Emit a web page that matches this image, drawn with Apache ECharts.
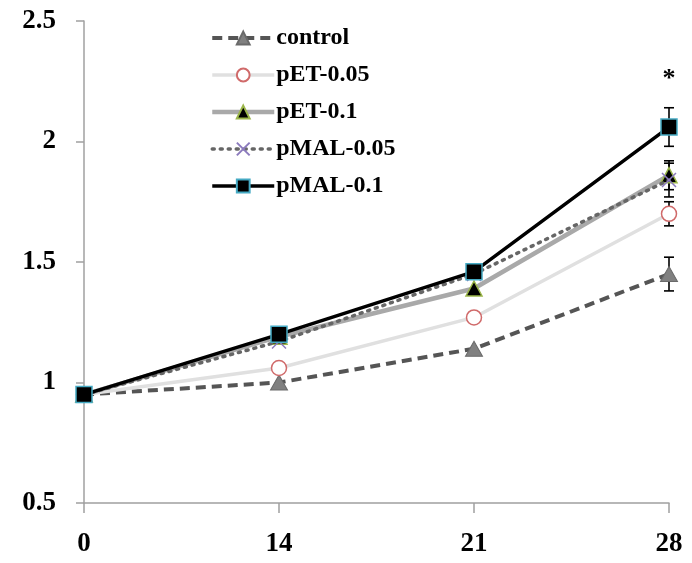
<!DOCTYPE html>
<html>
<head>
<meta charset="utf-8">
<script src="https://cdn.jsdelivr.net/npm/echarts@6/dist/echarts.min.js"></script>
<style>
html,body{margin:0;padding:0;background:#fff;}
#chart{width:692px;height:563px;}
</style>
</head>
<body>
<div id="chart"></div>
<script>
const days = ['0', '14', '21', '28'];
const yTicks = [0.5, 1, 1.5, 2, 2.5];
const seriesNames = ['control', 'pET-0.05', 'pET-0.1', 'pMAL-0.05', 'pMAL-0.1'];
const control = [0.95, 1.00, 1.14, 1.45];
const pET005 = [0.95, 1.06, 1.27, 1.70];
const pET01 = [0.95, 1.19, 1.39, 1.86];
const pMAL005 = [0.95, 1.17, 1.45, 1.84];
const pMAL01 = [0.95, 1.20, 1.46, 2.06];
const errControl = [null, null, null, 0.07];
const errPET005 = [null, null, null, 0.05];
const errPET01 = [null, null, null, 0.06];
const errPMAL005 = [null, null, null, 0.07];
const errPMAL01 = [null, null, null, 0.08];
const sigMark = '*';
const sigDay = '28';
const sigY = 2.26;

const FONT = '"Liberation Serif", "Times New Roman", serif';

function errData(vals, errs) {
  const out = [];
  vals.forEach((v, i) => {
    if (errs[i] != null) out.push([i, v - errs[i], v + errs[i]]);
  });
  return out;
}

function errSeries(vals, errs, z) {
  return {
    type: 'custom',
    silent: true,
    z: z,
    data: errData(vals, errs),
    renderItem: function (params, api) {
      const x = api.value(0);
      const lo = api.coord([x, api.value(1)]);
      const hi = api.coord([x, api.value(2)]);
      const w = 5;
      const st = { stroke: '#000', lineWidth: 1.6 };
      return {
        type: 'group',
        children: [
          { type: 'line', shape: { x1: lo[0], y1: lo[1], x2: hi[0], y2: hi[1] }, style: st },
          { type: 'line', shape: { x1: lo[0] - w, y1: lo[1], x2: lo[0] + w, y2: lo[1] }, style: st },
          { type: 'line', shape: { x1: hi[0] - w, y1: hi[1], x2: hi[0] + w, y2: hi[1] }, style: st }
        ]
      };
    }
  };
}

const legendWidths = [4, 3.5, 4.5, 3.5, 3.5];

const chart = echarts.init(document.getElementById('chart'), null, { renderer: 'canvas' });

const option = {
  animation: false,
  backgroundColor: '#fff',
  grid: { left: 84, right: 23, top: 21, bottom: 60 },
  legend: {
    data: seriesNames.map((n, i) => ({ name: n, lineStyle: { width: legendWidths[i] } })),
    orient: 'vertical',
    left: 205,
    top: 21,
    itemWidth: 62,
    itemHeight: 16,
    itemGap: 13,
    textStyle: { fontFamily: FONT, fontWeight: 'bold', fontSize: 24, color: '#000', lineHeight: 24, padding: [0, 0, 0, -3] }
  },
  xAxis: {
    type: 'category',
    data: days,
    boundaryGap: false,
    axisLine: { lineStyle: { color: '#a0a0a0', width: 1.5 } },
    axisTick: { show: true, inside: false, length: 10, alignWithLabel: true, lineStyle: { color: '#a0a0a0', width: 1.5 } },
    axisLabel: { fontFamily: FONT, fontWeight: 'bold', fontSize: 27, color: '#000', margin: 28 },
    splitLine: { show: false }
  },
  yAxis: {
    type: 'value',
    min: yTicks[0],
    max: yTicks[yTicks.length - 1],
    interval: 0.5,
    axisLine: { show: true, lineStyle: { color: '#a0a0a0', width: 1.5 } },
    axisTick: { show: true, inside: false, length: 8, lineStyle: { color: '#a0a0a0', width: 1.5 } },
    axisLabel: { fontFamily: FONT, fontWeight: 'bold', fontSize: 27, color: '#000', margin: 28,
      formatter: function (v) { return String(v); } },
    splitLine: { show: false }
  },
  series: [
    errSeries(control, errControl, 1),
    errSeries(pET005, errPET005, 1),
    errSeries(pET01, errPET01, 1),
    errSeries(pMAL005, errPMAL005, 1),
    errSeries(pMAL01, errPMAL01, 1),
    {
      name: 'control', type: 'line', data: control, z: 2,
      symbol: 'triangle', symbolSize: [17, 15],
      lineStyle: { color: '#555555', width: 4, type: [10, 6] },
      itemStyle: { color: '#808080', borderColor: '#6a6a6a', borderWidth: 1 }
    },
    {
      name: 'pET-0.05', type: 'line', data: pET005, z: 3,
      symbol: 'circle', symbolSize: 15,
      lineStyle: { color: '#e0e0e0', width: 3.5 },
      itemStyle: { color: '#ffffff', borderColor: '#d06a6a', borderWidth: 1.5 }
    },
    {
      name: 'pET-0.1', type: 'line', data: pET01, z: 4,
      symbol: 'triangle', symbolSize: [16, 15],
      lineStyle: { color: '#a9a9a9', width: 4.5 },
      itemStyle: { color: '#000000', borderColor: '#9bb64a', borderWidth: 1.5 }
    },
    {
      name: 'pMAL-0.05', type: 'line', data: pMAL005, z: 5,
      symbol: 'path://M0,0L10,10M10,0L0,10', symbolSize: 14,
      lineStyle: { color: '#666666', width: 3.5, type: [2, 6], cap: 'round' },
      itemStyle: { color: '#8c7bbd', borderColor: '#8c7bbd', borderWidth: 1.5 }
    },
    {
      name: 'pMAL-0.1', type: 'line', data: pMAL01, z: 6,
      symbol: 'rect', symbolSize: 16,
      lineStyle: { color: '#000000', width: 3.5 },
      itemStyle: { color: '#000000', borderColor: '#45aac4', borderWidth: 1.5 },
      markPoint: {
        symbol: 'circle', symbolSize: 1,
        itemStyle: { color: 'rgba(0,0,0,0)' },
        label: { show: true, position: 'inside', formatter: sigMark, fontFamily: FONT, fontWeight: 'bold', fontSize: 26, color: '#000' },
        data: [{ coord: [sigDay, sigY] }]
      }
    }
  ]
};
chart.setOption(option);
</script>
</body>
</html>
